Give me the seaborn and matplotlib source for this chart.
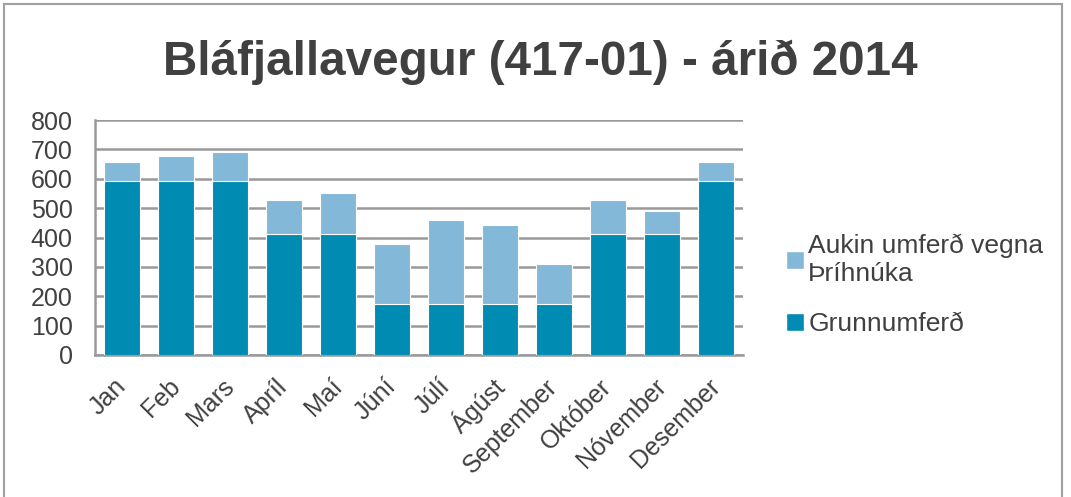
import matplotlib
matplotlib.use("Agg")
import matplotlib.pyplot as plt
from matplotlib.patches import Rectangle, Patch
import seaborn as sns
import pandas as pd

months = ["Jan", "Feb", "Mars", "Apríl", "Maí", "Júní", "Júlí", "Ágúst",
          "September", "Október", "Nóvember", "Desember"]
grunnumferd = [593, 593, 593, 413, 413, 175, 175, 175, 175, 413, 413, 593]
heild = [656, 679, 692, 527, 550, 378, 458, 441, 309, 528, 490, 658]

dark = "#008BB3"
light = "#84B8D8"
textc = "#404040"

df = pd.DataFrame({"month": months, "base": grunnumferd, "total": heild})

sns.set_theme(style="white")
plt.rcParams["font.family"] = ["Liberation Sans", "DejaVu Sans"]

fig = plt.figure(figsize=(10.71, 4.97), dpi=100)
ax = fig.add_axes([95 / 1071, 1 - 355 / 497, (743 - 95) / 1071, (355 - 120) / 497])

# total first (light), then base on top (dark)
sns.barplot(data=df, x="month", y="total", color=light, saturation=1,
            width=0.65, edgecolor="white", linewidth=0.8, ax=ax, zorder=3)
sns.barplot(data=df, x="month", y="base", color=dark, saturation=1,
            width=0.65, edgecolor="white", linewidth=0.8, ax=ax, zorder=4)

ax.set_ylim(0, 800)
ax.set_yticks(range(0, 801, 100))
ax.set_xlim(-0.5, 11.5)
ax.set_xlabel("")
ax.set_ylabel("")
ax.yaxis.grid(True, color="#999999", linewidth=1.8, zorder=0)
ax.set_axisbelow(True)
for s in ["top", "right"]:
    ax.spines[s].set_visible(False)
for s in ["left", "bottom"]:
    ax.spines[s].set_color("#999999")
    ax.spines[s].set_linewidth(1.8)
ax.tick_params(axis="both", length=0, labelsize=18, colors=textc)
ax.tick_params(axis="y", pad=16)
ax.tick_params(axis="x", pad=20)
plt.setp(ax.get_xticklabels(), rotation=45, ha="right", va="center", rotation_mode="anchor")

fig.text(540 / 1071, 1 - 62 / 497, "Bláfjallavegur (417-01) - árið 2014", ha="center", va="center",
         fontsize=34.3, fontweight="bold", color=textc)

handles = [Patch(facecolor=light, label="Aukin umferð vegna\nÞríhnúka"),
           Patch(facecolor=dark, label="Grunnumferð")]
fig.legend(handles=handles, loc="center left", bbox_to_anchor=(762 / 1071, 1 - 285 / 497),
           frameon=False, fontsize=19, labelcolor=textc, handlelength=0.7,
           handleheight=0.7, handletextpad=0.15, labelspacing=1.0)

fig.patches.append(Rectangle((4 / 1071, -0.1), 1058 / 1071, 1.1 - 4 / 497, transform=fig.transFigure,
                             fill=False, edgecolor="#A0A0A0", linewidth=1.5))

fig.savefig("out.png", dpi=100)
